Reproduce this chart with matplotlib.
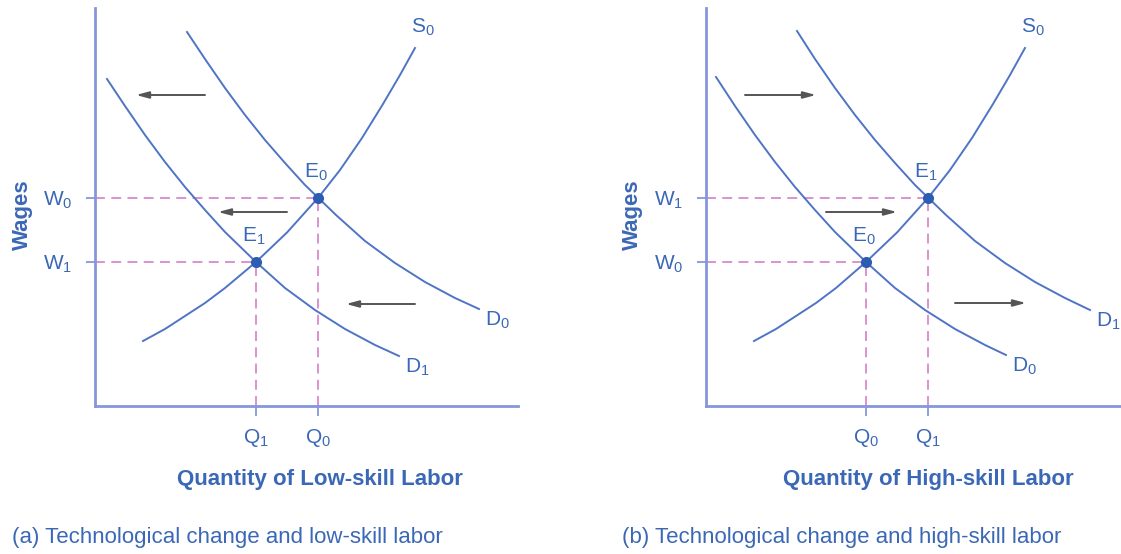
import matplotlib.pyplot as plt

# ──────────────────────────────────────────────
# Data (arbitrary units: 1 unit = 10 px of the original drawing)
# ──────────────────────────────────────────────

# (a) low-skill labor
low_supply_x = [4.8, 7.0, 9.0, 11.0, 13.0, 16.1, 19.2, 22.3, 24.5, 26.7, 28.8, 30.5, 32.0]
low_supply_y = [6.5, 7.7, 9.0, 10.3, 11.8, 14.4, 17.35, 20.8, 23.6, 26.8, 30.2, 33.1, 35.8]
low_d0_x = [9.2, 11.0, 13.0, 15.0, 17.0, 19.0, 21.0, 24.1, 27.0, 30.0, 33.0, 36.0, 38.4]
low_d0_y = [37.4, 34.7, 31.8, 29.1, 26.6, 24.3, 22.1, 19.1, 16.5, 14.3, 12.4, 10.8, 9.7]
low_d1_x = [1.2, 3.0, 5.0, 7.0, 9.0, 11.0, 13.0, 16.1, 19.0, 22.0, 25.0, 28.0, 30.4]
low_d1_y = [32.7, 30.0, 27.1, 24.4, 21.9, 19.6, 17.4, 14.4, 11.8, 9.6, 7.7, 6.1, 5.0]
low_eq_q = [22.3, 16.1]          # E0, E1
low_eq_w = [20.8, 14.4]
low_eq_names = ["E$_0$", "E$_1$"]
low_q_labels = ["Q$_0$", "Q$_1$"]
low_w_labels = ["W$_0$", "W$_1$"]
low_arrow_from = [(11.0, 31.1), (19.2, 19.4), (32.0, 10.2)]
low_arrow_to = [(4.1, 31.1), (12.3, 19.4), (25.1, 10.2)]

# (b) high-skill labor
high_supply_x = [4.8, 7.0, 9.0, 11.0, 13.0, 16.0, 19.1, 22.2, 24.4, 26.6, 28.7, 30.4, 31.9]
high_supply_y = [6.5, 7.7, 9.0, 10.3, 11.8, 14.4, 17.35, 20.8, 23.6, 26.8, 30.2, 33.1, 35.8]
high_d0_x = [1.0, 2.9, 4.9, 6.9, 8.9, 10.9, 12.9, 16.0, 18.9, 21.9, 24.9, 27.9, 30.0]
high_d0_y = [32.9, 30.0, 27.1, 24.4, 21.9, 19.6, 17.4, 14.4, 11.8, 9.6, 7.7, 6.1, 5.1]
high_d1_x = [9.1, 10.9, 12.9, 14.9, 16.9, 18.9, 20.9, 24.0, 26.9, 29.9, 32.9, 35.9, 38.4]
high_d1_y = [37.5, 34.7, 31.8, 29.1, 26.6, 24.3, 22.1, 19.1, 16.5, 14.3, 12.4, 10.8, 9.6]
high_eq_q = [16.0, 22.2]         # E0, E1
high_eq_w = [14.4, 20.8]
high_eq_names = ["E$_0$", "E$_1$"]
high_q_labels = ["Q$_0$", "Q$_1$"]
high_w_labels = ["W$_0$", "W$_1$"]
high_arrow_from = [(3.9, 31.1), (12.0, 19.4), (24.9, 10.3)]
high_arrow_to = [(11.0, 31.1), (19.1, 19.4), (32.0, 10.3)]

# ──────────────────────────────────────────────
# Style
# ──────────────────────────────────────────────
W, H = 1121, 554
TEXT = "#3b68b6"
CURVE = "#4f74c6"
AXIS = "#8696dc"
DOT = "#2c5db2"
DASH = "#d98acb"
ARROW = "#555555"
FS = 15
FS_TITLE = 16

plt.rcParams["font.family"] = ["Liberation Sans", "DejaVu Sans"]
plt.rcParams["mathtext.default"] = "regular"


def px_axes(fig, left, width, top=0, bottom=406):
    """Axes placed on a pixel box, data units = 10 px."""
    ax = fig.add_axes([left / W, (H - bottom) / H, width / W, (bottom - top) / H])
    ax.set_xlim(0, width / 10)
    ax.set_ylim(0, (bottom - top) / 10)
    ax.patch.set_alpha(0)
    for s in ["top", "right"]:
        ax.spines[s].set_visible(False)
    for s in ["left", "bottom"]:
        ax.spines[s].set_color(AXIS)
        ax.spines[s].set_linewidth(2)
    return ax


def draw_panel(ax, supply, d_a, d_b, eq_q, eq_w, eq_names, q_labels, w_labels,
               arrows_from, arrows_to, d_names, x_end):
    ax.spines["left"].set_bounds(0, 39.8)
    ax.spines["bottom"].set_bounds(0, x_end)

    for (xs, ys) in (supply, d_a, d_b):
        ax.plot(xs, ys, color=CURVE, lw=1.4, solid_joinstyle="round", clip_on=False)

    # guide lines
    for q, w in zip(eq_q, eq_w):
        ax.plot([0, q], [w, w], color=DASH, lw=1.3, ls=(0, (5.5, 3.5)), zorder=1)
        ax.plot([q, q], [0, w], color=DASH, lw=1.3, ls=(0, (5.5, 3.5)), zorder=1)
    ax.scatter(eq_q, eq_w, s=64, color=DOT, zorder=5, linewidths=0)

    for q, w, name in zip(eq_q, eq_w, eq_names):
        ax.annotate(name, (q, w), xytext=(-2, 26), textcoords="offset pixels",
                    ha="center", va="center", color=TEXT, fontsize=FS)

    # curve labels
    ax.annotate("S$_0$", (supply[0][-1], supply[1][-1]), xytext=(8, 21),
                textcoords="offset pixels", ha="center", va="center",
                color=TEXT, fontsize=FS)
    for (xs, ys), name in zip((d_a, d_b), d_names):
        ax.annotate(name, (xs[-1], ys[-1]), xytext=(18, -11),
                    textcoords="offset pixels", ha="center", va="center",
                    color=TEXT, fontsize=FS)

    for a, b in zip(arrows_from, arrows_to):
        ax.annotate("", xy=b, xytext=a,
                    arrowprops=dict(arrowstyle="-|>,head_length=0.75,head_width=0.2",
                                    color=ARROW, lw=1.4, shrinkA=0, shrinkB=0))

    ax.set_xticks(eq_q, q_labels)
    ax.set_yticks(eq_w, w_labels)
    ax.tick_params(axis="x", length=7.2, width=1.3, color=AXIS, pad=8,
                   labelsize=FS, labelcolor=TEXT)
    ax.tick_params(axis="y", length=6.5, width=1.3, color=AXIS, pad=10,
                   labelsize=FS, labelcolor=TEXT)


fig = plt.figure(figsize=(W / 100, H / 100), dpi=100)
fig.patch.set_facecolor("white")

ax_a = px_axes(fig, 95, 460)
draw_panel(ax_a, (low_supply_x, low_supply_y), (low_d0_x, low_d0_y),
           (low_d1_x, low_d1_y), low_eq_q, low_eq_w, low_eq_names,
           low_q_labels, low_w_labels, low_arrow_from, low_arrow_to,
           ["D$_0$", "D$_1$"], 42.3)

ax_b = px_axes(fig, 706, 415)
draw_panel(ax_b, (high_supply_x, high_supply_y), (high_d1_x, high_d1_y),
           (high_d0_x, high_d0_y), high_eq_q, high_eq_w, high_eq_names,
           high_q_labels, high_w_labels, high_arrow_from, high_arrow_to,
           ["D$_1$", "D$_0$"], 41.5)

# axis titles and captions
for x, title in [(320, "Quantity of Low-skill Labor"), (928, "Quantity of High-skill Labor")]:
    fig.text(x / W, 1 - 480 / H, title, ha="center", va="center",
             color=TEXT, fontsize=FS_TITLE, fontweight="bold")
for x in (22, 632):
    fig.text(x / W, 1 - 215 / H, "Wages", ha="center", va="center", rotation=90,
             color=TEXT, fontsize=FS_TITLE, fontweight="bold")
for x, cap in [(12, "(a) Technological change and low-skill labor"),
               (622, "(b) Technological change and high-skill labor")]:
    fig.text(x / W, 1 - 538 / H, cap, ha="left", va="center",
             color=TEXT, fontsize=FS_TITLE)

fig.savefig("out.png", dpi=100)
